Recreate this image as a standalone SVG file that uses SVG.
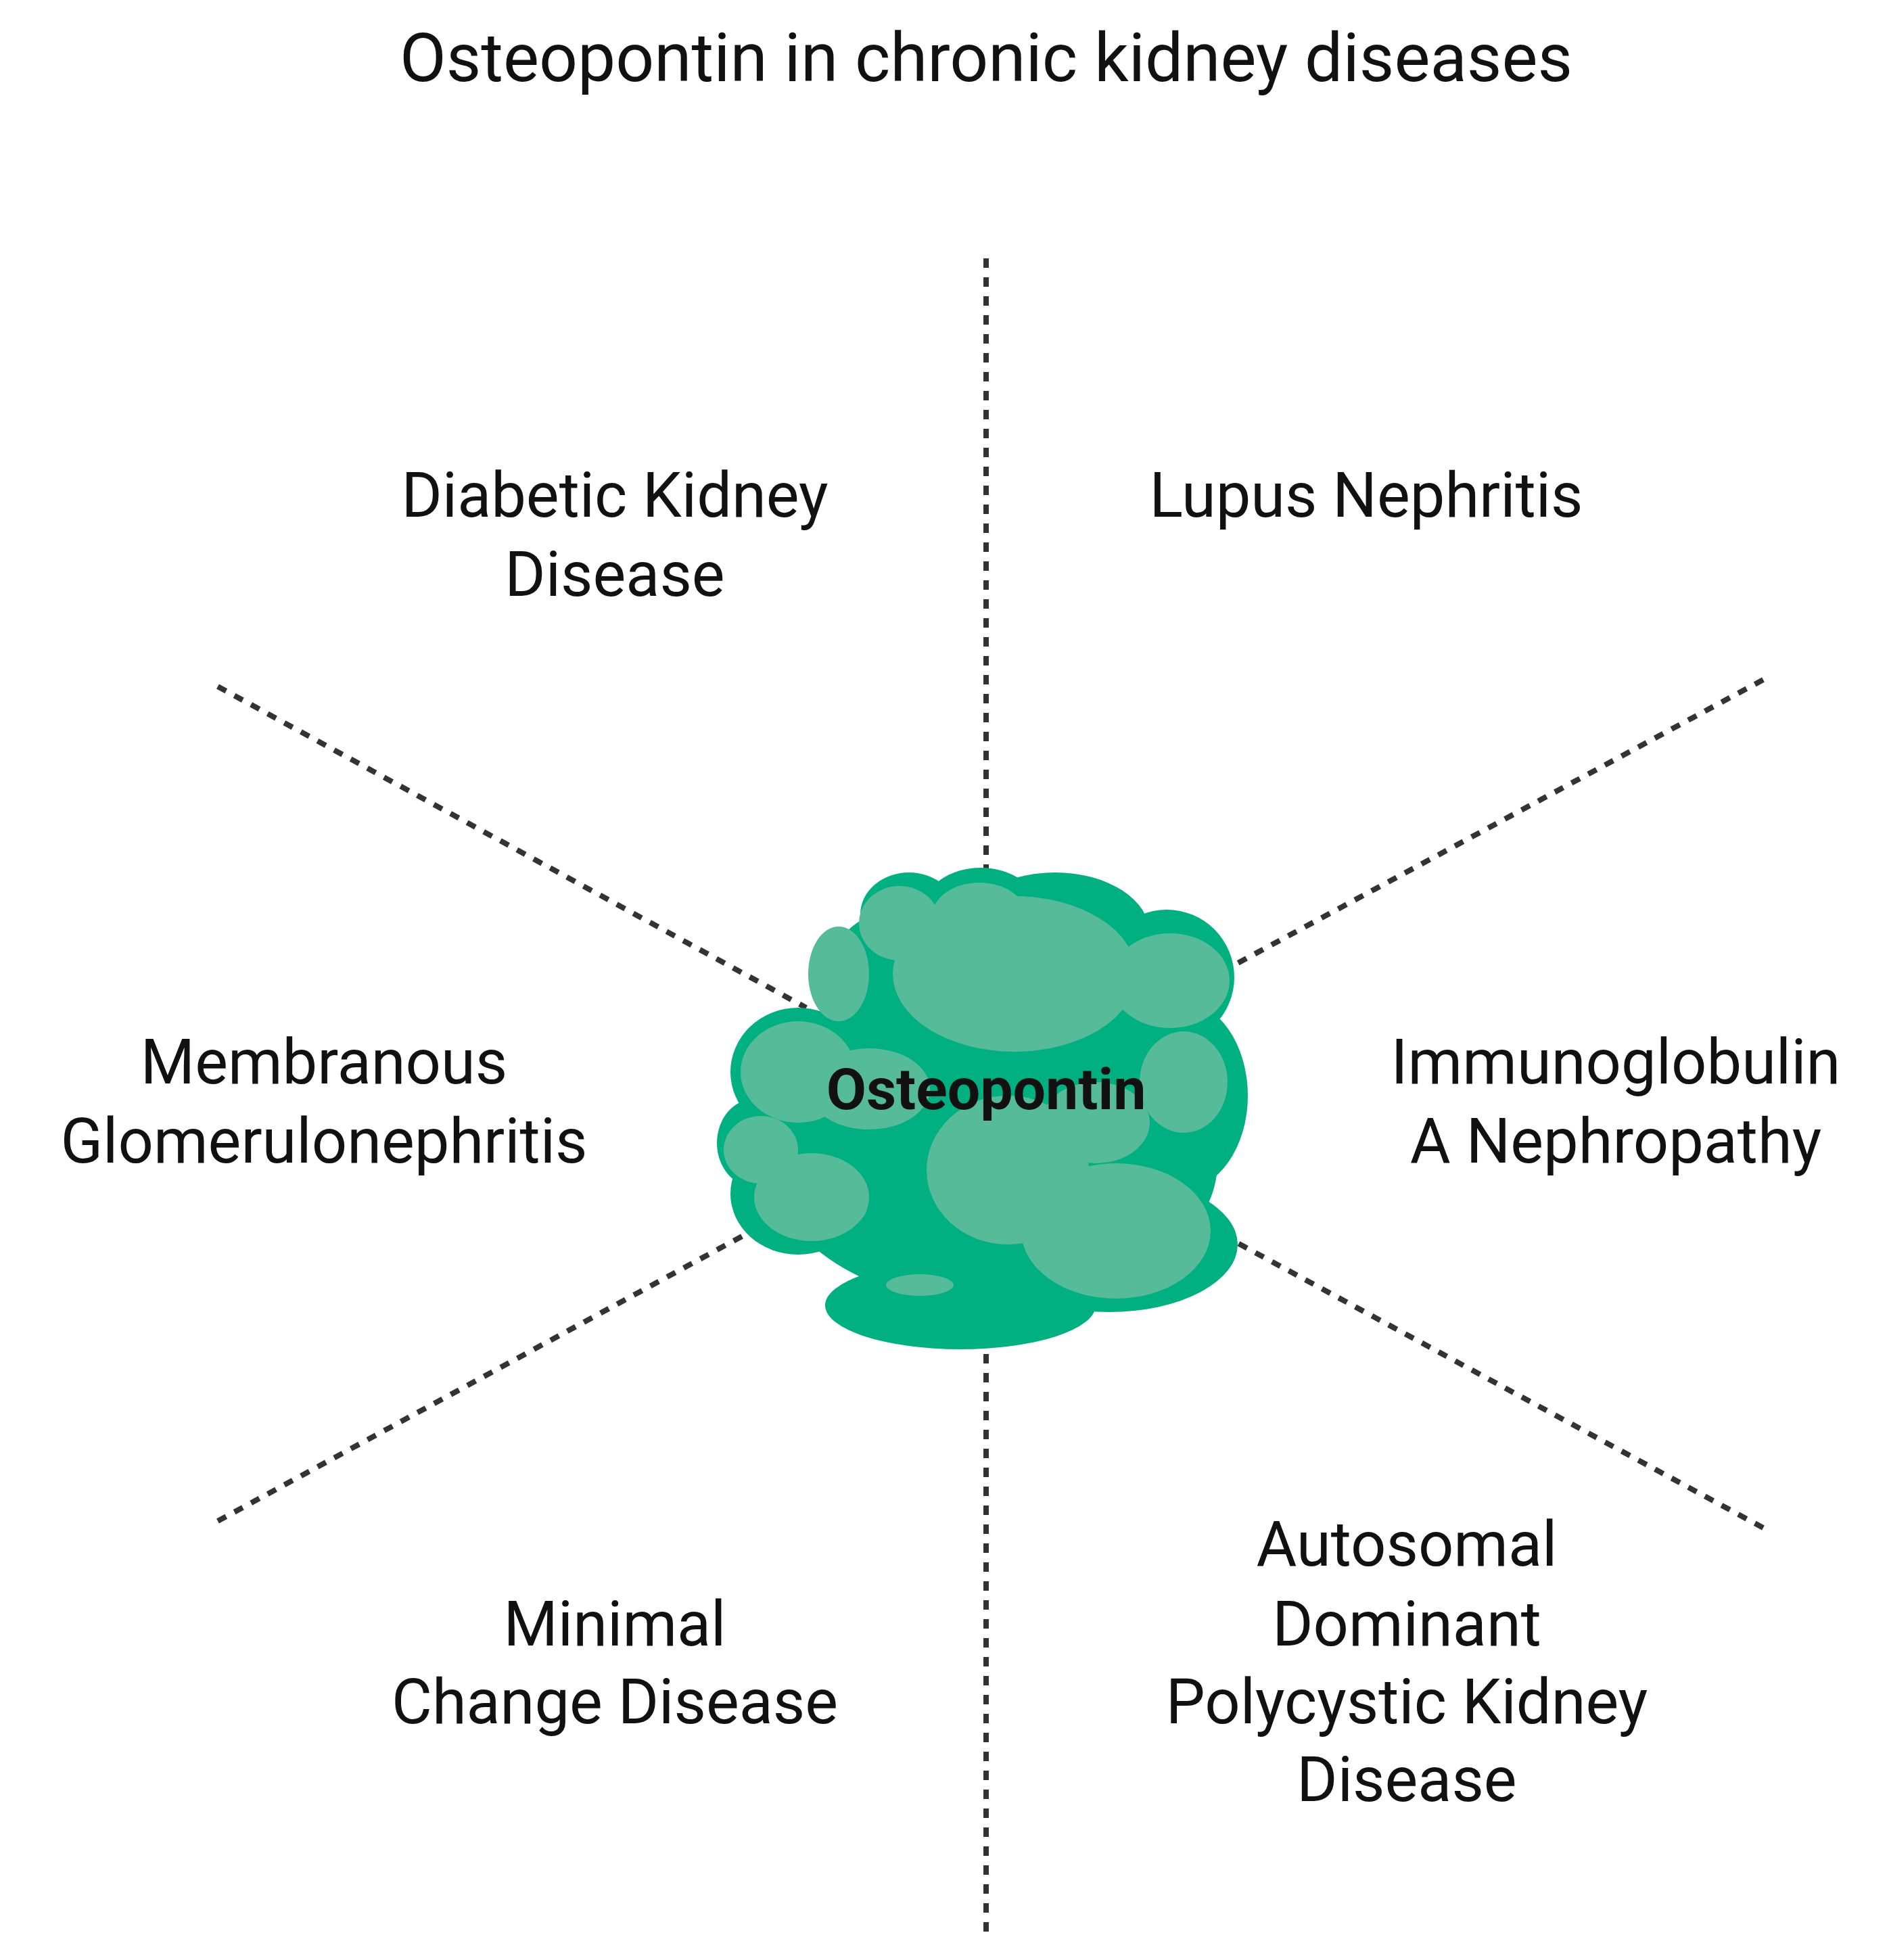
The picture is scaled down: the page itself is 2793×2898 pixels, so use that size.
<svg xmlns="http://www.w3.org/2000/svg" width="2793" height="2898" viewBox="0 0 2793 2898">
<style>
.t{font-family:Roboto,"Liberation Sans",sans-serif;fill:#111;text-anchor:middle}
.l{font-size:92px}
.c{stroke:#333;stroke-width:8;stroke-dasharray:14 14;fill:none}
.d{fill:#00b080}
.g{fill:#55bb98}
</style>
<rect width="2793" height="2898" fill="#fff"/>
<text class="t" x="1458" y="120" font-size="100">Osteopontin in chronic kidney diseases</text>
<g id="connectors">
<line class="c" x1="1458" y1="382" x2="1458" y2="1285"/>
<line class="c" x1="1458" y1="2002" x2="1458" y2="2868"/>
<line class="c" x1="322" y1="1015" x2="1192" y2="1490"/>
<line class="c" x1="2607" y1="1005" x2="1806" y2="1437"/>
<line class="c" x1="322" y1="2249" x2="1154" y2="1797"/>
<line class="c" x1="2607" y1="2259" x2="1806" y2="1825"/>
</g>
<g id="osteopontin">
<g class="d">
<ellipse cx="1344" cy="1352" rx="72" ry="62"/>
<ellipse cx="1450" cy="1345" rx="85" ry="62"/>
<ellipse cx="1560" cy="1380" rx="140" ry="90"/>
<ellipse cx="1460" cy="1460" rx="250" ry="150"/>
<ellipse cx="1725" cy="1445" rx="100" ry="100"/>
<ellipse cx="1745" cy="1620" rx="100" ry="140"/>
<ellipse cx="1180" cy="1585" rx="100" ry="95"/>
<ellipse cx="1115" cy="1690" rx="55" ry="65"/>
<ellipse cx="1180" cy="1765" rx="100" ry="90"/>
<ellipse cx="1470" cy="1720" rx="330" ry="210"/>
<ellipse cx="1420" cy="1930" rx="200" ry="65"/>
<ellipse cx="1640" cy="1840" rx="190" ry="100"/>
</g>
<g class="g">
<ellipse cx="1330" cy="1365" rx="60" ry="55"/>
<ellipse cx="1448" cy="1355" rx="70" ry="50"/>
<ellipse cx="1500" cy="1440" rx="180" ry="115"/>
<ellipse cx="1240" cy="1440" rx="45" ry="70"/>
<ellipse cx="1730" cy="1450" rx="88" ry="70"/>
<ellipse cx="1750" cy="1600" rx="65" ry="75"/>
<ellipse cx="1180" cy="1585" rx="85" ry="75"/>
<ellipse cx="1285" cy="1610" rx="90" ry="60"/>
<ellipse cx="1125" cy="1700" rx="55" ry="50"/>
<ellipse cx="1200" cy="1770" rx="85" ry="65"/>
<ellipse cx="1255" cy="1780" rx="28" ry="30"/>
<ellipse cx="1490" cy="1730" rx="120" ry="110"/>
<ellipse cx="1620" cy="1660" rx="80" ry="60"/>
<ellipse cx="1650" cy="1820" rx="140" ry="100"/>
<ellipse cx="1710" cy="1860" rx="50" ry="45"/>
<ellipse cx="1360" cy="1900" rx="50" ry="16"/>
</g>
<text class="t" x="1458" y="1640" font-size="86" font-weight="bold">Osteopontin</text>
</g>
<g id="dkd"><text class="t l" x="909" y="764">Diabetic Kidney</text><text class="t l" x="909" y="881">Disease</text></g>
<g id="ln"><text class="t l" x="2020" y="764">Lupus Nephritis</text></g>
<g id="mg"><text class="t l" x="479" y="1602">Membranous</text><text class="t l" x="479" y="1719">Glomerulonephritis</text></g>
<g id="iga"><text class="t l" x="2389" y="1602">Immunoglobulin</text><text class="t l" x="2389" y="1719">A Nephropathy</text></g>
<g id="mcd"><text class="t l" x="909" y="2433">Minimal</text><text class="t l" x="909" y="2548">Change Disease</text></g>
<g id="adpkd"><text class="t l" x="2080" y="2315">Autosomal</text><text class="t l" x="2080" y="2433">Dominant</text><text class="t l" x="2080" y="2548">Polycystic Kidney</text><text class="t l" x="2080" y="2663">Disease</text></g>
</svg>
